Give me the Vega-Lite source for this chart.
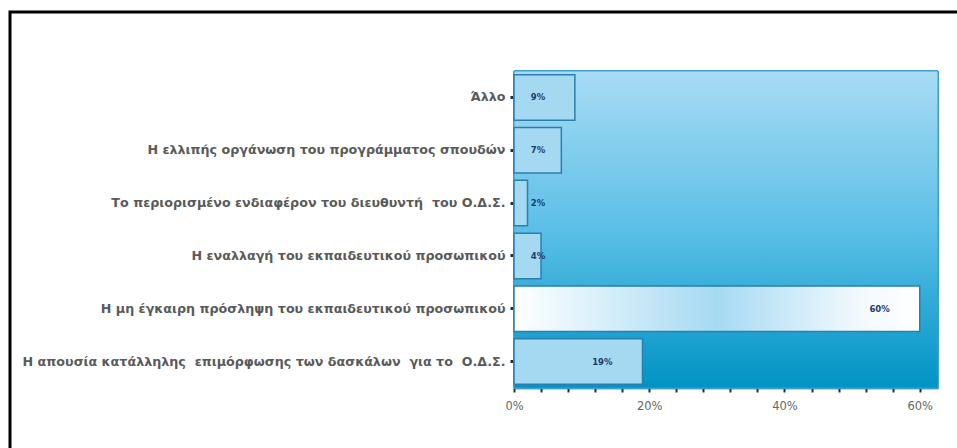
{
  "$schema": "https://vega.github.io/schema/vega-lite/v6.json",
  "width": 960,
  "height": 440,
  "autosize": {"type": "none"},
  "padding": {"left": 10, "top": 12, "right": 0, "bottom": 0},
  "background": "white",
  "config": {
    "view": {"stroke": "black", "strokeWidth": 3, "fill": null},
    "axis": {"grid": false}
  },
  "data": {
    "values": [
      {"cat": "Άλλο", "value": 9, "lbl": "9%"},
      {"cat": "Η ελλιπής οργάνωση του προγράμματος σπουδών", "value": 7, "lbl": "7%"},
      {"cat": "Το περιορισμένο ενδιαφέρον του διευθυντή\u00a0 του Ο.Δ.Σ.", "value": 2, "lbl": "2%"},
      {"cat": "Η εναλλαγή του εκπαιδευτικού προσωπικού", "value": 4, "lbl": "4%"},
      {"cat": "Η μη έγκαιρη πρόσληψη του εκπαιδευτικού προσωπικού", "value": 60, "lbl": "60%"},
      {"cat": "Η απουσία κατάλληλης\u00a0 επιμόρφωσης των δασκάλων\u00a0 για το\u00a0 Ο.Δ.Σ.", "value": 19, "lbl": "19%"}
    ]
  },
  "resolve": {"scale": {"y": "independent"}, "axis": {"y": "independent"}},
  "layer": [
    {
      "mark": {
        "type": "rect",
        "stroke": "#3d9dcc",
        "strokeWidth": 1,
        "fill": {
          "gradient": "linear", "x1": 0, "y1": 0, "x2": 0, "y2": 1,
          "stops": [
            {"offset": 0, "color": "#a9dcf4"},
            {"offset": 0.5, "color": "#5bbfe7"},
            {"offset": 1, "color": "#0093c5"}
          ]
        }
      },
      "encoding": {
        "x": {
          "datum": 0, "type": "quantitative", "title": null,
          "scale": {"domain": [0, 62.7], "range": [504, 928], "nice": false, "zero": true},
          "axis": {
            "values": [0, 4, 8, 12, 16, 20, 24, 28, 32, 36, 40, 44, 48, 52, 56, 60],
            "labelExpr": "datum.value % 20 === 0 ? datum.value + '%' : ''",
            "offset": -64,
            "domainColor": "#1a4f78", "domainWidth": 1.5,
            "tickColor": "#10324f", "tickSize": 4, "tickWidth": 2,
            "labelColor": "#666666", "labelFont": "DejaVu Sans", "labelFontSize": 11.5,
            "labelPadding": 8, "labelFlush": false, "labelOverlap": false
          }
        },
        "x2": {"datum": 62.7},
        "y": {"datum": 0, "type": "quantitative", "scale": {"domain": [0, 1], "range": [376, 59]}, "axis": null},
        "y2": {"datum": 1}
      }
    },
    {
      "encoding": {
        "y": {
          "field": "cat", "type": "nominal", "title": null,
          "scale": {
            "domain": [
              "Άλλο",
              "Η ελλιπής οργάνωση του προγράμματος σπουδών",
              "Το περιορισμένο ενδιαφέρον του διευθυντή\u00a0 του Ο.Δ.Σ.",
              "Η εναλλαγή του εκπαιδευτικού προσωπικού",
              "Η μη έγκαιρη πρόσληψη του εκπαιδευτικού προσωπικού",
              "Η απουσία κατάλληλης\u00a0 επιμόρφωσης των δασκάλων\u00a0 για το\u00a0 Ο.Δ.Σ."
            ],
            "range": [59, 376], "paddingInner": 0.14, "paddingOuter": 0.07
          },
          "axis": {
            "offset": -504,
            "domainColor": "#1a4f78", "domainWidth": 1.5,
            "tickColor": "#10324f", "tickSize": 4, "tickWidth": 3,
            "labelColor": "#5a5a5a", "labelFont": "DejaVu Sans", "labelFontSize": 12.7,
            "labelFontWeight": "bold",
            "labelPadding": 5, "labelLimit": 0
          }
        }
      },
      "layer": [
        {
          "mark": {"type": "bar", "stroke": "#2a7fae", "strokeWidth": 1.5},
          "encoding": {
            "x": {"field": "value", "type": "quantitative", "title": null, "scale": {"domain": [0, 62.7], "range": [504, 928], "nice": false}},
            "fill": {
              "condition": {
                "test": "datum.value >= 50",
                "value": {
                  "gradient": "linear", "x1": 0, "y1": 0, "x2": 1, "y2": 0,
                  "stops": [
                    {"offset": 0, "color": "#ffffff"},
                    {"offset": 0.5, "color": "#a6daf3"},
                    {"offset": 0.85, "color": "#f2f9fd"},
                    {"offset": 1, "color": "#ffffff"}
                  ]
                }
              },
              "value": "#a5d8f1"
            }
          }
        },
        {
          "transform": [{"filter": "datum.value < 10"}],
          "mark": {"type": "text", "font": "DejaVu Sans", "fontSize": 8.5, "fontWeight": "bold", "color": "#1a3d6b", "dx": 24, "align": "center"},
          "encoding": {
            "x": {"datum": 0, "type": "quantitative", "title": null, "scale": {"domain": [0, 62.7], "range": [504, 928], "nice": false}},
            "text": {"field": "lbl"}
          }
        },
        {
          "transform": [{"filter": "datum.value >= 10"}],
          "mark": {"type": "text", "font": "DejaVu Sans", "fontSize": 8.5, "fontWeight": "bold", "color": "#1a3d6b", "dx": -30, "align": "right"},
          "encoding": {
            "x": {"field": "value", "type": "quantitative", "title": null, "scale": {"domain": [0, 62.7], "range": [504, 928], "nice": false}},
            "text": {"field": "lbl"}
          }
        }
      ]
    }
  ]
}
